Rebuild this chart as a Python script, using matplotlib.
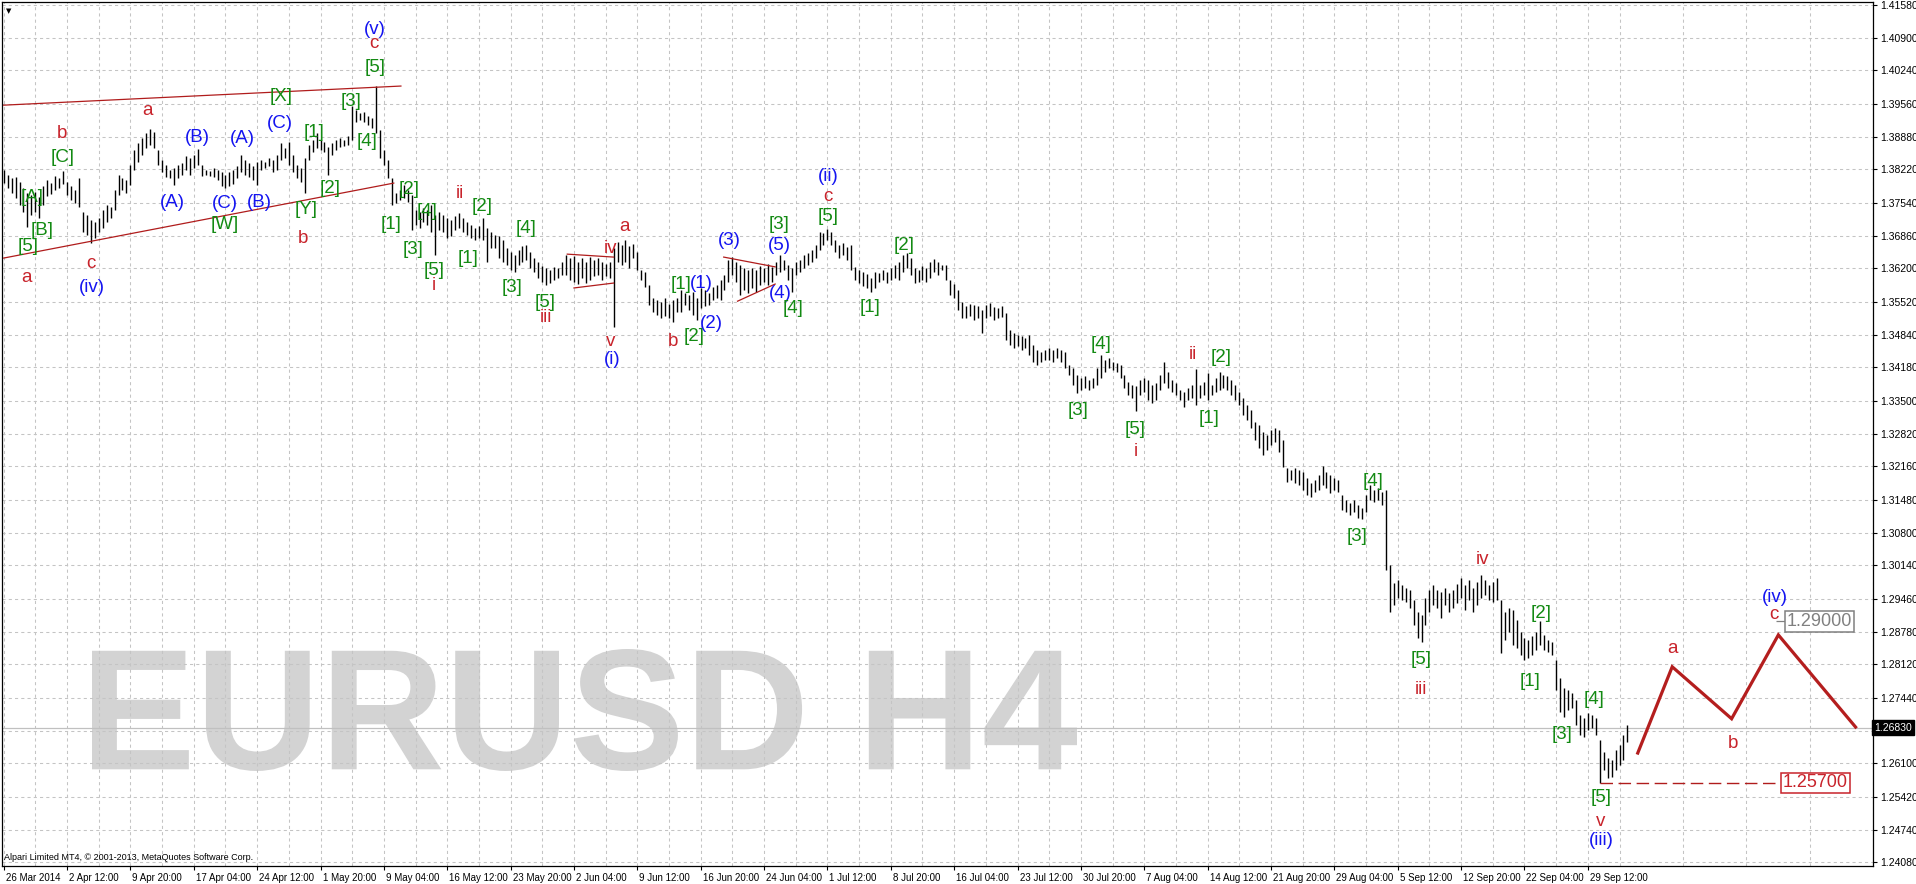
import numpy as np
import matplotlib
matplotlib.use("Agg")
import matplotlib.pyplot as plt
import matplotlib.transforms as mtransforms
from matplotlib.textpath import TextPath
from matplotlib.patches import PathPatch
from matplotlib.font_manager import FontProperties

# EURUSD H4, one bar kept out of every two (high / low)
highs = [
    1.3821, 1.3811, 1.3804, 1.3806, 1.3796, 1.3784, 1.3774, 1.3770, 1.3776, 1.3766,
    1.3788, 1.3800, 1.3794, 1.3808, 1.3804, 1.3819, 1.3796, 1.3788, 1.3780, 1.3804,
    1.3735, 1.3729, 1.3719, 1.3715, 1.3723, 1.3739, 1.3749, 1.3745, 1.3780, 1.3811,
    1.3804, 1.3800, 1.3831, 1.3862, 1.3876, 1.3886, 1.3896, 1.3904, 1.3898, 1.3862,
    1.3841, 1.3831, 1.3821, 1.3825, 1.3831, 1.3835, 1.3849, 1.3845, 1.3851, 1.3864,
    1.3831, 1.3821, 1.3819, 1.3825, 1.3821, 1.3817, 1.3811, 1.3817, 1.3821, 1.3829,
    1.3851, 1.3841, 1.3835, 1.3829, 1.3837, 1.3841, 1.3837, 1.3845, 1.3841, 1.3851,
    1.3876, 1.3866, 1.3878, 1.3851, 1.3831, 1.3825, 1.3845, 1.3872, 1.3882, 1.3896,
    1.3882, 1.3878, 1.3868, 1.3876, 1.3882, 1.3886, 1.3882, 1.3890, 1.3951, 1.3943,
    1.3937, 1.3939, 1.3931, 1.3927, 1.3992, 1.3902, 1.3862, 1.3841, 1.3804, 1.3774,
    1.3780, 1.3790, 1.3780, 1.3770, 1.3739, 1.3735, 1.3743, 1.3739, 1.3749, 1.3729,
    1.3735, 1.3729, 1.3723, 1.3719, 1.3727, 1.3733, 1.3723, 1.3715, 1.3709, 1.3702,
    1.3707, 1.3723, 1.3702, 1.3694, 1.3688, 1.3686, 1.3678, 1.3662, 1.3653, 1.3647,
    1.3658, 1.3666, 1.3668, 1.3653, 1.3641, 1.3633, 1.3625, 1.3621, 1.3617, 1.3623,
    1.3621, 1.3633, 1.3647, 1.3641, 1.3645, 1.3633, 1.3641, 1.3633, 1.3643, 1.3637,
    1.3641, 1.3633, 1.3629, 1.3633, 1.3662, 1.3674, 1.3668, 1.3678, 1.3666, 1.3670,
    1.3653, 1.3617, 1.3613, 1.3586, 1.3560, 1.3556, 1.3551, 1.3560, 1.3547, 1.3556,
    1.3560, 1.3576, 1.3570, 1.3566, 1.3572, 1.3560, 1.3580, 1.3576, 1.3570, 1.3582,
    1.3586, 1.3596, 1.3607, 1.3637, 1.3643, 1.3633, 1.3627, 1.3621, 1.3617, 1.3621,
    1.3617, 1.3625, 1.3621, 1.3629, 1.3623, 1.3633, 1.3647, 1.3637, 1.3627, 1.3621,
    1.3633, 1.3637, 1.3647, 1.3651, 1.3658, 1.3668, 1.3694, 1.3692, 1.3700, 1.3694,
    1.3678, 1.3668, 1.3672, 1.3664, 1.3668, 1.3623, 1.3617, 1.3613, 1.3609, 1.3600,
    1.3613, 1.3611, 1.3617, 1.3613, 1.3621, 1.3627, 1.3633, 1.3647, 1.3651, 1.3641,
    1.3621, 1.3617, 1.3625, 1.3621, 1.3633, 1.3639, 1.3633, 1.3627, 1.3627, 1.3596,
    1.3588, 1.3576, 1.3551, 1.3543, 1.3547, 1.3545, 1.3543, 1.3535, 1.3545, 1.3549,
    1.3541, 1.3539, 1.3543, 1.3529, 1.3494, 1.3488, 1.3484, 1.3482, 1.3478, 1.3484,
    1.3464, 1.3454, 1.3449, 1.3454, 1.3458, 1.3454, 1.3458, 1.3454, 1.3449, 1.3423,
    1.3417, 1.3403, 1.3396, 1.3400, 1.3392, 1.3396, 1.3417, 1.3443, 1.3433, 1.3437,
    1.3429, 1.3427, 1.3423, 1.3403, 1.3388, 1.3382, 1.3380, 1.3392, 1.3396, 1.3392,
    1.3382, 1.3386, 1.3403, 1.3429, 1.3408, 1.3392, 1.3386, 1.3372, 1.3368, 1.3376,
    1.3382, 1.3415, 1.3382, 1.3388, 1.3406, 1.3382, 1.3396, 1.3408, 1.3403, 1.3400,
    1.3392, 1.3382, 1.3368, 1.3356, 1.3341, 1.3331, 1.3307, 1.3301, 1.3286, 1.3280,
    1.3290, 1.3294, 1.3290, 1.3270, 1.3213, 1.3209, 1.3213, 1.3209, 1.3205, 1.3192,
    1.3182, 1.3188, 1.3199, 1.3217, 1.3205, 1.3199, 1.3192, 1.3188, 1.3158, 1.3148,
    1.3141, 1.3148, 1.3137, 1.3131, 1.3158, 1.3178, 1.3168, 1.3172, 1.3164, 1.3168,
    1.3015, 1.2978, 1.2984, 1.2974, 1.2968, 1.2964, 1.2944, 1.2919, 1.2913, 1.2948,
    1.2964, 1.2974, 1.2964, 1.2960, 1.2968, 1.2958, 1.2964, 1.2976, 1.2988, 1.2974,
    1.2984, 1.2968, 1.2980, 1.2995, 1.2984, 1.2974, 1.2980, 1.2988, 1.2944, 1.2919,
    1.2927, 1.2923, 1.2903, 1.2878, 1.2866, 1.2862, 1.2870, 1.2878, 1.2901, 1.2872,
    1.2862, 1.2858, 1.2821, 1.2784, 1.2764, 1.2760, 1.2754, 1.2740, 1.2709, 1.2703,
    1.2713, 1.2709, 1.2703, 1.2658, 1.2633, 1.2621, 1.2617, 1.2638, 1.2648, 1.2668,
    1.2689,
]
lows = [
    1.3794, 1.3784, 1.3774, 1.3764, 1.3749, 1.3735, 1.3705, 1.3729, 1.3735, 1.3723,
    1.3749, 1.3768, 1.3772, 1.3780, 1.3784, 1.3792, 1.3770, 1.3760, 1.3753, 1.3745,
    1.3694, 1.3688, 1.3672, 1.3682, 1.3694, 1.3702, 1.3715, 1.3723, 1.3739, 1.3770,
    1.3780, 1.3774, 1.3790, 1.3821, 1.3837, 1.3851, 1.3866, 1.3872, 1.3866, 1.3831,
    1.3817, 1.3806, 1.3804, 1.3790, 1.3804, 1.3811, 1.3821, 1.3811, 1.3825, 1.3831,
    1.3808, 1.3811, 1.3808, 1.3806, 1.3800, 1.3788, 1.3784, 1.3788, 1.3792, 1.3804,
    1.3817, 1.3811, 1.3806, 1.3800, 1.3790, 1.3821, 1.3825, 1.3829, 1.3817, 1.3821,
    1.3841, 1.3845, 1.3831, 1.3817, 1.3804, 1.3796, 1.3774, 1.3841, 1.3857, 1.3866,
    1.3862, 1.3857, 1.3811, 1.3851, 1.3862, 1.3868, 1.3870, 1.3872, 1.3882, 1.3919,
    1.3923, 1.3919, 1.3913, 1.3906, 1.3896, 1.3845, 1.3831, 1.3804, 1.3749, 1.3753,
    1.3760, 1.3764, 1.3755, 1.3698, 1.3709, 1.3702, 1.3715, 1.3709, 1.3694, 1.3647,
    1.3698, 1.3694, 1.3682, 1.3686, 1.3698, 1.3702, 1.3694, 1.3688, 1.3682, 1.3678,
    1.3682, 1.3678, 1.3633, 1.3662, 1.3662, 1.3641, 1.3633, 1.3627, 1.3617, 1.3613,
    1.3627, 1.3633, 1.3637, 1.3621, 1.3613, 1.3600, 1.3592, 1.3586, 1.3590, 1.3596,
    1.3600, 1.3607, 1.3607, 1.3596, 1.3592, 1.3588, 1.3600, 1.3590, 1.3596, 1.3604,
    1.3607, 1.3596, 1.3604, 1.3600, 1.3500, 1.3633, 1.3627, 1.3633, 1.3621, 1.3641,
    1.3617, 1.3596, 1.3582, 1.3545, 1.3531, 1.3525, 1.3519, 1.3523, 1.3519, 1.3511,
    1.3531, 1.3531, 1.3545, 1.3535, 1.3525, 1.3515, 1.3539, 1.3543, 1.3545, 1.3556,
    1.3560, 1.3556, 1.3576, 1.3592, 1.3607, 1.3592, 1.3566, 1.3576, 1.3570, 1.3580,
    1.3572, 1.3586, 1.3592, 1.3586, 1.3592, 1.3607, 1.3613, 1.3617, 1.3596, 1.3572,
    1.3607, 1.3613, 1.3621, 1.3627, 1.3633, 1.3641, 1.3658, 1.3668, 1.3678, 1.3668,
    1.3653, 1.3641, 1.3647, 1.3637, 1.3617, 1.3596, 1.3590, 1.3584, 1.3580, 1.3572,
    1.3580, 1.3592, 1.3596, 1.3590, 1.3596, 1.3600, 1.3596, 1.3613, 1.3621, 1.3607,
    1.3590, 1.3592, 1.3596, 1.3592, 1.3600, 1.3613, 1.3607, 1.3617, 1.3596, 1.3566,
    1.3560, 1.3535, 1.3519, 1.3519, 1.3523, 1.3515, 1.3519, 1.3488, 1.3519, 1.3523,
    1.3515, 1.3519, 1.3521, 1.3474, 1.3464, 1.3458, 1.3462, 1.3454, 1.3458, 1.3443,
    1.3429, 1.3423, 1.3429, 1.3433, 1.3433, 1.3429, 1.3437, 1.3429, 1.3417, 1.3403,
    1.3382, 1.3366, 1.3372, 1.3376, 1.3372, 1.3376, 1.3382, 1.3396, 1.3408, 1.3417,
    1.3413, 1.3408, 1.3396, 1.3376, 1.3362, 1.3356, 1.3329, 1.3362, 1.3368, 1.3351,
    1.3345, 1.3351, 1.3372, 1.3386, 1.3376, 1.3368, 1.3362, 1.3351, 1.3337, 1.3351,
    1.3356, 1.3341, 1.3356, 1.3362, 1.3351, 1.3362, 1.3368, 1.3372, 1.3376, 1.3372,
    1.3362, 1.3351, 1.3341, 1.3321, 1.3311, 1.3294, 1.3270, 1.3254, 1.3239, 1.3250,
    1.3260, 1.3266, 1.3245, 1.3215, 1.3184, 1.3188, 1.3182, 1.3178, 1.3168, 1.3158,
    1.3154, 1.3164, 1.3168, 1.3178, 1.3172, 1.3162, 1.3168, 1.3164, 1.3127, 1.3123,
    1.3117, 1.3123, 1.3111, 1.3109, 1.3123, 1.3148, 1.3143, 1.3148, 1.3137, 1.3005,
    1.2919, 1.2933, 1.2948, 1.2944, 1.2939, 1.2927, 1.2893, 1.2866, 1.2858, 1.2893,
    1.2919, 1.2933, 1.2927, 1.2907, 1.2933, 1.2919, 1.2927, 1.2937, 1.2948, 1.2923,
    1.2944, 1.2919, 1.2933, 1.2948, 1.2954, 1.2944, 1.2939, 1.2944, 1.2835, 1.2862,
    1.2878, 1.2852, 1.2846, 1.2831, 1.2821, 1.2825, 1.2831, 1.2842, 1.2852, 1.2842,
    1.2837, 1.2831, 1.2760, 1.2715, 1.2705, 1.2719, 1.2723, 1.2689, 1.2668, 1.2664,
    1.2678, 1.2682, 1.2668, 1.2570, 1.2597, 1.2580, 1.2582, 1.2597, 1.2607, 1.2617,
    1.2654,
]
bar_step = 2          # H4 bars between two kept bars
bars_per_label = 32   # H4 bars between two time labels

date_labels = [
    "26 Mar 2014", "2 Apr 12:00", "9 Apr 20:00", "17 Apr 04:00", "24 Apr 12:00",
    "1 May 20:00", "9 May 04:00", "16 May 12:00", "23 May 20:00", "2 Jun 04:00",
    "9 Jun 12:00", "16 Jun 20:00", "24 Jun 04:00", "1 Jul 12:00", "8 Jul 20:00",
    "16 Jul 04:00", "23 Jul 12:00", "30 Jul 20:00", "7 Aug 04:00", "14 Aug 12:00",
    "21 Aug 20:00", "29 Aug 04:00", "5 Sep 12:00", "12 Sep 20:00", "22 Sep 04:00",
    "29 Sep 12:00",
]
price_labels = [
    "1.41580", "1.40900", "1.40240", "1.39560", "1.38880", "1.38220", "1.37540",
    "1.36860", "1.36200", "1.35520", "1.34840", "1.34180", "1.33500", "1.32820",
    "1.32160", "1.31480", "1.30800", "1.30140", "1.29460", "1.28780", "1.28120",
    "1.27440", "1.26760", "1.26100", "1.25420", "1.24740", "1.24080",
]
hidden_label = "1.26760"   # sits under the current price box
current_price = 1.26830
target_price = 1.29000
stop_price = 1.25700

# hand drawn objects (bar position, price)
channel_upper = ([0, 200.6], [1.3953, 1.3992])
channel_lower = ([0, 197.0], [1.3641, 1.3794])
tri1_upper = ([284.6, 308.0], [1.3649, 1.3643])
tri1_lower = ([288.0, 308.0], [1.3580, 1.3590])
tri2_upper = ([363.6, 389.6], [1.3643, 1.3623])
tri2_lower = ([370.6, 389.6], [1.3553, 1.3588])
proj_x = [825.2, 842.6, 872.6, 896.2, 935.2]
proj_y = [1.2631, 1.2807, 1.2701, 1.2872, 1.2684]

RED, GREEN, BLUE = "#c8232b", "#138a13", "#1414f0"
wave_text = ["a", "[5]", "[B]", "[A]", "[C]", "b", "c", "(iv)", "a", "(A)",
             "(B)", "(C)", "[W]", "(A)", "(B)", "(C)", "[X]", "[Y]", "b", "[1]",
             "[2]", "[3]", "[4]", "[5]", "c", "(v)", "[2]", "[1]", "[4]", "[3]",
             "[5]", "i", "ii", "[2]", "[1]", "[4]", "[3]", "[5]", "iii", "iv",
             "a", "v", "(i)", "b", "[1]", "(1)", "[2]", "(2)", "(3)", "[3]",
             "(5)", "(4)", "[4]", "(ii)", "c", "[5]", "[1]", "[2]", "[3]", "[4]",
             "[5]", "i", "ii", "[2]", "[1]", "[3]", "[4]", "iv", "[5]", "iii",
             "[2]", "[1]", "[4]", "[3]", "[5]", "v", "(iii)", "a", "b", "c", "(iv)"]
wave_x = [11.6, 12.2, 19.6, 14.2, 29.6, 29.6, 44.2, 44.6, 72.6, 85.2,
          97.6, 111.6, 111.6, 120.6, 129.2, 139.6, 140.2, 152.6, 151.2, 156.6,
          164.6, 175.6, 183.6, 187.6, 187.2, 187.2, 204.6, 195.6, 213.6, 206.6,
          217.6, 217.2, 230.6, 241.6, 234.6, 263.6, 256.6, 273.6, 273.6, 306.6,
          313.6, 306.6, 307.2, 338.2, 342.2, 352.2, 348.6, 357.6, 366.6, 391.6,
          391.6, 392.2, 398.6, 416.6, 416.2, 416.2, 437.6, 454.6, 542.6, 554.2,
          571.6, 571.6, 600.6, 614.6, 608.6, 683.6, 691.6, 746.6, 715.6, 715.6,
          776.6, 770.6, 803.2, 787.2, 806.6, 806.2, 806.6, 842.6, 873.2, 894.2, 894.6]
wave_y = [1.3602, 1.3664, 1.3698, 1.3764, 1.3847, 1.3896, 1.3629, 1.3580, 1.3943, 1.3755,
          1.3886, 1.3753, 1.3709, 1.3884, 1.3755, 1.3915, 1.3970, 1.3741, 1.3680, 1.3898,
          1.3782, 1.3961, 1.3878, 1.4029, 1.4078, 1.4108, 1.3780, 1.3709, 1.3735, 1.3658,
          1.3615, 1.3584, 1.3772, 1.3747, 1.3641, 1.3702, 1.3580, 1.3551, 1.3519, 1.3660,
          1.3705, 1.3470, 1.3435, 1.3470, 1.3588, 1.3590, 1.3480, 1.3507, 1.3676, 1.3709,
          1.3666, 1.3568, 1.3539, 1.3808, 1.3766, 1.3725, 1.3541, 1.3666, 1.3329, 1.3464,
          1.3292, 1.3247, 1.3445, 1.3439, 1.3313, 1.3072, 1.3186, 1.3025, 1.2821, 1.2760,
          1.2915, 1.2776, 1.2740, 1.2668, 1.2540, 1.2491, 1.2452, 1.2844, 1.2650, 1.2913, 1.2948]


def wave_color(t):
    if t.startswith("["):
        return GREEN
    if t.startswith("("):
        return BLUE
    return RED


W, H = 1916, 884
plt.rcParams["font.family"] = ["Liberation Sans", "DejaVu Sans"]
fig = plt.figure(figsize=(W / 100, H / 100), dpi=100)
fig.patch.set_facecolor("white")
ax = fig.add_axes([2 / W, 18 / H, 1871 / W, 864 / H])
ax.set_xlim(-0.85, 934.65)
ax.set_ylim(1.24005, 1.41635)

# grid
n_labels = len(date_labels)
major_x = np.arange(n_labels) * bars_per_label
minor_x = np.arange(n_labels + 4) * bars_per_label + bars_per_label / 2
ax.set_xticks(major_x)
ax.set_xticklabels(date_labels)
ax.set_xticks(minor_x, minor=True)
price_ticks = [float(p) for p in price_labels]
ax.set_yticks(price_ticks)
ax.set_yticklabels(["" if p == hidden_label else p for p in price_labels])
ax.yaxis.tick_right()
ax.set_axisbelow(True)
ax.grid(which="both", color="#c4c4c4", lw=0.75, ls=(0, (3, 3)), zorder=0)
ax.tick_params(axis="x", which="major", length=3, width=0.8, pad=2, labelsize=7)
ax.tick_params(axis="x", which="minor", length=0)
ax.tick_params(axis="y", length=3, width=0.8, pad=2, labelsize=7.5)
offset = mtransforms.ScaledTranslation(2 / 100, 0, fig.dpi_scale_trans)
for lab in ax.get_xticklabels():
    lab.set_ha("left")
    lab.set_transform(lab.get_transform() + offset)
for s in ax.spines.values():
    s.set_color("black")
    s.set_linewidth(0.9)

# big symbol watermark
tp = TextPath((0, 0), "EURUSD H4", size=100,
              prop=FontProperties(family="Liberation Sans", weight="bold"))
ext = tp.get_extents()
wm = (mtransforms.Affine2D().translate(-ext.x0, -ext.y0)
      .scale(985 / ext.width, 122 / ext.height).translate(92, H - 771))
ax.add_patch(PathPatch(tp, transform=wm, fc="#d3d3d3", ec="none", zorder=0.5))

# price bars
xb = np.arange(len(highs)) * bar_step
ax.vlines(xb, lows, highs, color="black", lw=1.0, zorder=3)

# current price
ax.axhline(current_price, color="#c0c0c0", lw=0.9, zorder=1)
bt = mtransforms.blended_transform_factory(ax.transAxes, ax.transData)
ax.text(1.0008, current_price, f"{current_price:.5f}", transform=bt, ha="left",
        va="center", fontsize=7.5, color="white", zorder=10, clip_on=False,
        bbox=dict(boxstyle="square,pad=0.2", fc="black", ec="black"))

# trend lines
for xs, ys in [channel_upper, channel_lower, tri1_upper, tri1_lower, tri2_upper, tri2_lower]:
    ax.plot(xs, ys, color="#b01c1c", lw=0.9, zorder=4)

# projected path
ax.plot(proj_x, proj_y, color="#b41e1e", lw=2.3, zorder=4, solid_joinstyle="miter")

# stop level from the low bar
low_bar = int(np.argmin(lows)) * bar_step
ax.hlines(stop_price, low_bar, 898.6, color="#b01c1c", lw=1.0,
          linestyles=[(0, (9, 4))], zorder=4)
ax.text(914.9, stop_price, f"{stop_price:.5f}", ha="center", va="center",
        fontsize=13, color=RED, zorder=6,
        bbox=dict(boxstyle="square,pad=0.1", fc="white", ec=RED, lw=1.1))
ax.hlines(target_price, 895.2, 901.2, color="#808080", lw=0.9, zorder=4)
ax.text(917.1, target_price, f"{target_price:.5f}", ha="center", va="center",
        fontsize=13, color="#808080", zorder=6,
        bbox=dict(boxstyle="square,pad=0.1", fc="white", ec="#808080", lw=1.1))

# wave labels
for t, x, y in zip(wave_text, wave_x, wave_y):
    ax.text(x, y, t, ha="center", va="center", fontsize=13.5,
            color=wave_color(t), zorder=5)

fig.text(4 / W, 1 - 857 / H, "Alpari Limited MT4, \u00a9 2001-2013, MetaQuotes Software Corp.",
         fontsize=6.5, ha="left", va="center", color="black")
fig.text(9 / W, 1 - 11 / H, "\u25bc", fontsize=5, ha="center", va="center",
         family="DejaVu Sans", color="black")

fig.savefig("out.png", dpi=100)
